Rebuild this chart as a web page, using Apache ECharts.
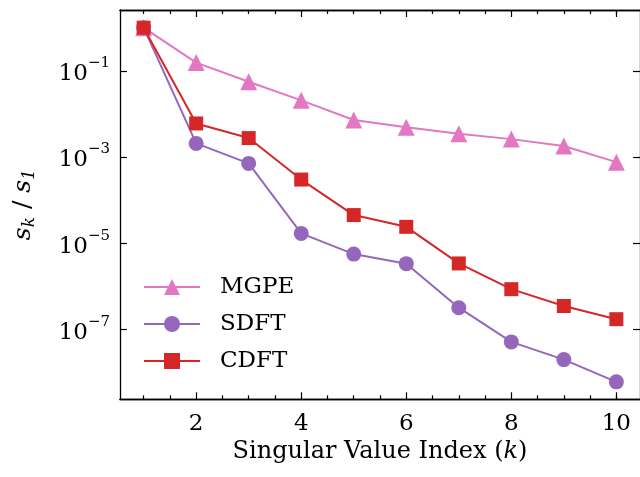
<!DOCTYPE html>
<html>
<head>
<meta charset="utf-8">
<script src="https://cdn.jsdelivr.net/npm/echarts@6/dist/echarts.min.js"></script>
<style>
html,body{margin:0;padding:0;background:#fff;}
#chart{width:640px;height:477px;}
</style>
</head>
<body>
<div id="chart"></div>
<script>
// Data
const kValues = [1, 2, 3, 4, 5, 6, 7, 8, 9, 10];
const mgpe = [1, 0.155, 0.0556, 0.0206, 0.0072, 0.0049, 0.00345, 0.0026, 0.0018, 0.00076];
const sdft = [1, 2.07e-3, 7.1e-4, 1.69e-5, 5.6e-6, 3.36e-6, 3.2e-7, 5.15e-8, 2.0e-8, 6.1e-9];
const cdft = [1, 6.0e-3, 2.75e-3, 3.0e-4, 4.5e-5, 2.4e-5, 3.4e-6, 8.6e-7, 3.5e-7, 1.73e-7];
const seriesNames = ['MGPE', 'SDFT', 'CDFT'];
const xMajorTicks = [2, 4, 6, 8, 10];
const xMinorTicks = [1, 1.5, 2.5, 3, 3.5, 4.5, 5, 5.5, 6.5, 7, 7.5, 8.5, 9, 9.5, 10];
const yMajorTicks = [1e-7, 1e-5, 1e-3, 1e-1];
const xLabel = 'Singular Value Index';

const FONT = 'DejaVu Serif';
const colors = ['#e377c2', '#9467bd', '#d62728'];
const symbols = ['triangle', 'circle', 'rect'];
const symbolSizes = [17, 15, 14];

const chart = echarts.init(document.getElementById('chart'), null, {renderer: 'canvas'});

function pairs(arr) { return kValues.map((k, i) => [k, arr[i]]); }
const allData = [mgpe, sdft, cdft];

const XMIN = 0.55, XMAX = 10.45;
const YMIN = Math.pow(10, -8.62), YMAX = Math.pow(10, 0.41);
const lineCol = '#000';

function xAxisDef(pos, ticks, len, labels) {
  return {
    type: 'value', min: XMIN, max: XMAX, position: pos,
    axisLine: {show: true, onZero: false, lineStyle: {color: lineCol, width: 1.3}},
    axisTick: {show: true, inside: true, length: len, customValues: ticks, lineStyle: {color: lineCol, width: 1.2}},
    axisLabel: labels ? {show: true, customValues: ticks, fontFamily: FONT, fontSize: 23, color: '#000', margin: 13} : {show: false},
    splitLine: {show: false}
  };
}
function yFmt(v) {
  const e = Math.round(Math.log10(v));
  return '{b|10}{s|' + (e < 0 ? '−' : '') + Math.abs(e) + '}';
}

const option = {
  animation: false,
  backgroundColor: '#fff',
  grid: {left: 120, right: -1.7, top: 10, bottom: 77.7, containLabel: false},
  legend: {
    orient: 'vertical', left: 143, top: 275, itemWidth: 56, itemHeight: 20, itemGap: 13,
    padding: 0,
    data: seriesNames,
    textStyle: {fontFamily: FONT, fontSize: 23, color: '#000', lineHeight: 24, padding: [0, 0, 0, 15]}
  },
  xAxis: [
    Object.assign(xAxisDef('bottom', xMajorTicks, 7, true), {
      name: '{t|' + xLabel + ' (}{i|k}{t|)}', nameLocation: 'middle', nameGap: 34,
      nameTextStyle: {rich: {t: {fontFamily: FONT, fontSize: 24, color: '#000'}, i: {fontFamily: FONT, fontStyle: 'italic', fontSize: 24, color: '#000'}}}
    }),
    xAxisDef('bottom', xMinorTicks, 4, false),
    xAxisDef('top', xMajorTicks, 7, false),
    xAxisDef('top', xMinorTicks, 4, false)
  ],
  yAxis: [
    {
      type: 'log', logBase: 10, min: YMIN, max: YMAX, position: 'left',
      axisLine: {show: true, onZero: false, lineStyle: {color: lineCol, width: 1.3}},
      axisTick: {show: true, inside: true, length: 7, customValues: yMajorTicks, lineStyle: {color: lineCol, width: 1.2}},
      axisLabel: {
        show: true, customValues: yMajorTicks, margin: 10, formatter: yFmt,
        rich: {
          b: {fontFamily: FONT, fontSize: 23, color: '#000', lineHeight: 30, verticalAlign: 'bottom'},
          s: {fontFamily: FONT, fontSize: 15, color: '#000', lineHeight: 18, verticalAlign: 'top'}
        }
      },
      splitLine: {show: false},
      name: '{i|s}{sub|k}{t| / }{i|s}{sub|1}', nameLocation: 'middle', nameGap: 82, nameRotate: 90,
      nameTextStyle: {rich: {
        i: {fontFamily: FONT, fontStyle: 'italic', fontSize: 25, color: '#000', lineHeight: 30, verticalAlign: 'middle'},
        t: {fontFamily: FONT, fontSize: 25, color: '#000', lineHeight: 30, verticalAlign: 'middle'},
        sub: {fontFamily: FONT, fontStyle: 'italic', fontSize: 17, color: '#000', lineHeight: 30, verticalAlign: 'bottom'}
      }}
    },
    {
      type: 'log', logBase: 10, min: YMIN, max: YMAX, position: 'right',
      axisLine: {show: true, onZero: false, lineStyle: {color: lineCol, width: 1.3}},
      axisTick: {show: true, inside: true, length: 7, customValues: yMajorTicks, lineStyle: {color: lineCol, width: 1.2}},
      axisLabel: {show: false},
      splitLine: {show: false}
    }
  ],
  series: seriesNames.map((name, i) => ({
    name: name, type: 'line', xAxisIndex: 0, yAxisIndex: 0,
    data: pairs(allData[i]),
    symbol: symbols[i], symbolSize: symbolSizes[i],
    showSymbol: true,
    lineStyle: {color: colors[i], width: 2},
    itemStyle: {color: colors[i], borderWidth: 0},
    z: 2 + i
  }))
};
chart.setOption(option);
</script>
</body>
</html>
